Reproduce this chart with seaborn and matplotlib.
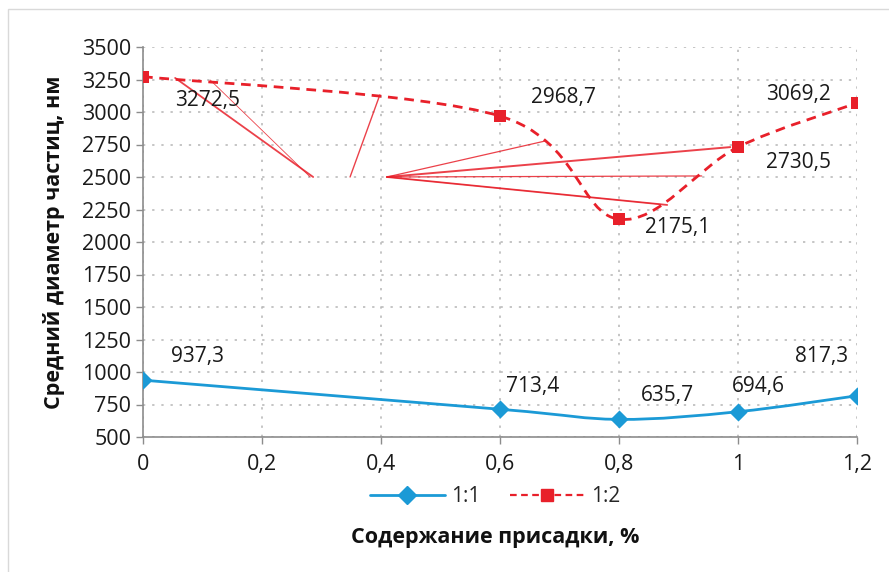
import numpy as np
import seaborn as sns
import matplotlib.pyplot as plt
from matplotlib.path import Path
from matplotlib.patches import PathPatch, Rectangle
from matplotlib.lines import Line2D

# Data
x_vals = [0, 0.6, 0.8, 1.0, 1.2]
y_11 = [937.3, 713.4, 635.7, 694.6, 817.3]
y_12 = [3272.5, 2968.7, 2175.1, 2730.5, 3069.2]
lbl_11 = ['937,3', '713,4', '635,7', '694,6', '817,3']
lbl_12 = ['3272,5', '2968,7', '2175,1', '2730,5', '3069,2']
series_names = ['1:1', '1:2']

x_ticks = [0, 0.2, 0.4, 0.6, 0.8, 1.0, 1.2]
x_ticklabels = ['0', '0,2', '0,4', '0,6', '0,8', '1', '1,2']
y_ticks = list(range(500, 3501, 250))

# label positions (data coords)
pos_11 = [(0.091, 1123), (0.655, 892), (0.882, 823), (1.034, 892), (1.141, 1123)]
pos_12 = [(0.108, 3085), (0.706, 3108), (0.899, 2108), (1.101, 2615), (1.101, 3131)]

# stray leader lines as they appear in the source (start, end, width)
leaders = [((0.054, 3262), (0.286, 2500), 1.3),
           ((0.113, 3246), (0.281, 2500), 0.6),
           ((0.348, 2500), (0.398, 3131), 1.0),
           ((0.410, 2500), (0.676, 2777), 0.9),
           ((0.410, 2500), (0.987, 2730), 1.4),
           ((0.410, 2500), (0.939, 2508), 0.9),
           ((0.410, 2500), (0.881, 2285), 1.3),
           ((0.410, 2500), (0.870, 2290), 0.6)]

BLUE = '#1b9ad6'
RED = '#e8202a'

sns.set_theme(style='white')
plt.rcParams['font.family'] = ['Open Sans', 'DejaVu Sans']


def smooth_path(xs, ys):
    # Excel-like smoothed line: cubic Bezier with Catmull-Rom control points
    pts = np.column_stack([xs, ys]).astype(float)
    n = len(pts)
    verts = [pts[0]]
    codes = [Path.MOVETO]
    for i in range(n - 1):
        p0 = pts[i - 1] if i > 0 else pts[i]
        p1 = pts[i]
        p2 = pts[i + 1]
        p3 = pts[i + 2] if i + 2 < n else pts[i + 1]
        c1 = p1 + (p2 - p0) / 6
        c2 = p2 - (p3 - p1) / 6
        verts += [c1, c2, p2]
        codes += [Path.CURVE4] * 3
    return Path(verts, codes)


fig = plt.figure(figsize=(8.89, 5.72), dpi=100)
ax = fig.add_axes([143 / 889, 1 - 437 / 572, 714 / 889, 390 / 572])

# outer chart border
fig.patches.append(Rectangle((8 / 889, -0.05), 1.2, 1 - 9 / 572 + 0.05,
                             transform=fig.transFigure, fill=False,
                             edgecolor='#d9d9d9', lw=1.0))

ax.add_patch(PathPatch(smooth_path(x_vals, y_11), fill=False, edgecolor=BLUE,
                       lw=2.0, zorder=3))
ax.add_patch(PathPatch(smooth_path(x_vals, y_12), fill=False, edgecolor=RED,
                       lw=2.0, linestyle=(0, (3.5, 2.4)), zorder=3))

sns.scatterplot(x=x_vals, y=y_11, marker='D', s=85, color=BLUE,
                edgecolor=BLUE, linewidth=0, ax=ax, zorder=4)
sns.scatterplot(x=x_vals, y=y_12, marker='s', s=70, color=RED,
                edgecolor=RED, linewidth=0, ax=ax, zorder=4)

for (a, b, w) in leaders:
    ax.plot([a[0], b[0]], [a[1], b[1]], color=RED, lw=w, alpha=0.85, zorder=2)

for t, (px, py) in zip(lbl_11 + lbl_12, pos_11 + pos_12):
    ax.text(px, py, t, ha='center', va='center', fontsize=15, color='#1a1a1a',
            zorder=5)

ax.set_xlim(0, 1.2)
ax.set_ylim(500, 3500)
ax.set_xticks(x_ticks)
ax.set_xticklabels(x_ticklabels)
ax.set_yticks(y_ticks)
ax.tick_params(axis='both', labelsize=15.5, colors='#1a1a1a', length=5,
               direction='out', bottom=True, left=True, width=1)
ax.tick_params(axis='both', color='#8c8c8c')
ax.tick_params(axis='x', pad=7)

ax.grid(True, color='#b5b5b5', linestyle=(0, (1.5, 4.5)), lw=1.1)
for s in ['top', 'right']:
    ax.spines[s].set_visible(False)
for s in ['left', 'bottom']:
    ax.spines[s].set_color('#8c8c8c')
    ax.spines[s].set_linewidth(1.2)

ax.set_ylabel('Средний диаметр частиц, нм', fontsize=15.5, fontweight='bold',
              color='#111111', labelpad=12)
fig.text(495 / 889, 1 - 537 / 572, 'Содержание присадки, %', ha='center',
         va='center', fontsize=15.5, fontweight='bold', color='#111111')

handles = [Line2D([0], [0], color=BLUE, lw=2.0, marker='D', markersize=9),
           Line2D([0], [0], color=RED, lw=1.6, linestyle=(0, (3, 2)),
                  marker='s', markersize=8)]
fig.legend(handles, series_names, loc='center', ncol=2, frameon=False,
           bbox_to_anchor=(495 / 889, 1 - 497 / 572), fontsize=15,
           handlelength=3.6, columnspacing=1.4, handletextpad=0.3)

plt.savefig('out.png', dpi=100)
